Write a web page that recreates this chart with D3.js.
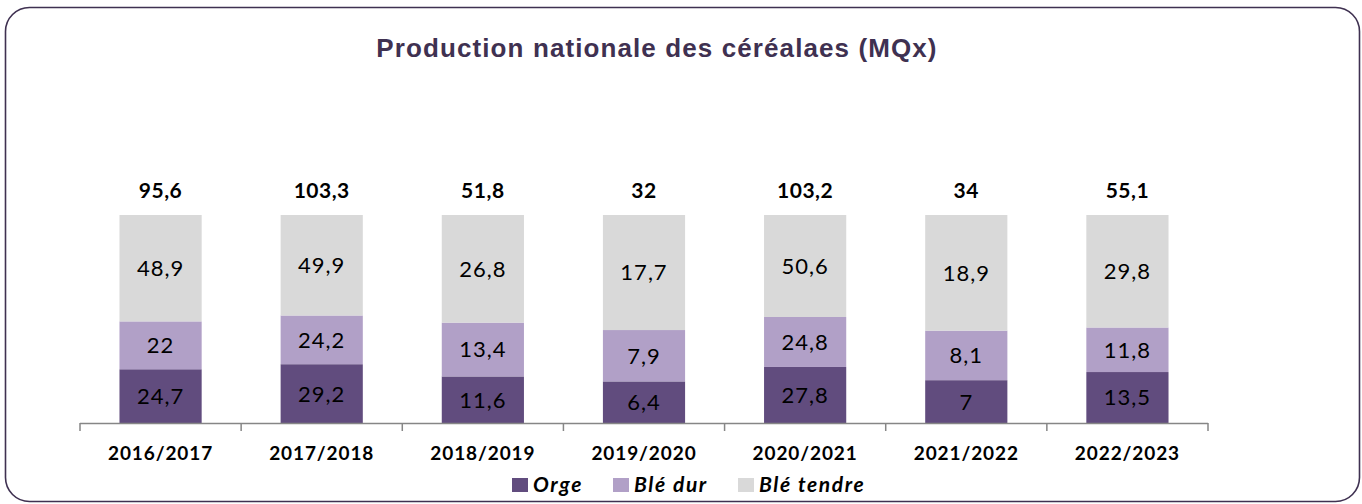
<!DOCTYPE html>
<html>
<head>
<meta charset="utf-8">
<script src="https://cdn.jsdelivr.net/npm/d3@7"></script>
<style>
  html, body { margin: 0; padding: 0; background: #fff; }
  svg { display: block; }
</style>
</head>
<body>
<svg id="chart" width="1362" height="504"></svg>
<script>
// Campaigns and production (MQx) per cereal
const campaigns = ["2016/2017", "2017/2018", "2018/2019", "2019/2020", "2020/2021", "2021/2022", "2022/2023"];
const orge      = [24.7, 29.2, 11.6, 6.4, 27.8, 7, 13.5];
const bleDur    = [22, 24.2, 13.4, 7.9, 24.8, 8.1, 11.8];
const bleTendre = [48.9, 49.9, 26.8, 17.7, 50.6, 18.9, 29.8];
const totals    = [95.6, 103.3, 51.8, 32, 103.2, 34, 55.1];
const seriesNames = ["Orge", "Blé dur", "Blé tendre"];
const seriesColors = ["#614C7E", "#B1A0C7", "#D9D9D9"];

const fr = d3.formatLocale({ decimal: ",", thousands: " ", grouping: [3], currency: ["", ""] });
const fmt = v => fr.format(",")(v).replace(/\u2212/, "-");

const rows = campaigns.map((c, i) => ({
  campaign: c,
  "Orge": orge[i],
  "Blé dur": bleDur[i],
  "Blé tendre": bleTendre[i],
  total: totals[i]
}));

const svg = d3.select("#chart");

// Rounded frame
svg.append("rect")
  .attr("x", 5.5).attr("y", 7.5)
  .attr("width", 1354).attr("height", 494)
  .attr("rx", 24).attr("ry", 24)
  .attr("fill", "#fff")
  .attr("stroke", "#3F3151")
  .attr("stroke-width", 1.6);

// Title
svg.append("text")
  .attr("x", 657).attr("y", 57)
  .attr("text-anchor", "middle")
  .attr("font-family", "'Liberation Sans', Arial, sans-serif")
  .attr("font-weight", "bold")
  .attr("font-size", 26)
  .attr("letter-spacing", "1.1px")
  .attr("fill", "#3F3151")
  .text("Production nationale des céréalaes (MQx)");

const x = d3.scaleBand()
  .domain(campaigns)
  .range([80, 1208])
  .paddingInner(0.49)
  .paddingOuter(0.245);

// Each column shows the share of every cereal in the campaign total
const y = d3.scaleLinear().domain([0, 1]).range([423, 215]);

const stack = d3.stack()
  .keys(seriesNames)
  .offset(d3.stackOffsetExpand);
const layers = stack(rows);

const g = svg.append("g");

layers.forEach((layer, li) => {
  const lg = g.append("g").attr("fill", seriesColors[li]);
  lg.selectAll("rect")
    .data(layer)
    .join("rect")
    .attr("x", d => x(d.data.campaign))
    .attr("width", x.bandwidth())
    .attr("y", d => y(d[1]))
    .attr("height", d => y(d[0]) - y(d[1]));

  g.append("g").selectAll("text")
    .data(layer)
    .join("text")
    .attr("x", d => x(d.data.campaign) + x.bandwidth() / 2)
    .attr("y", d => (y(d[0]) + y(d[1])) / 2)
    .attr("dy", "0.36em")
    .attr("text-anchor", "middle")
    .attr("font-family", "Lato, 'Open Sans', sans-serif")
    .attr("font-size", 22)
    .attr("letter-spacing", "1px")
    .attr("fill", "#000")
    .text(d => fmt(d.data[layer.key]));
});

// Totals above the columns
g.append("g").selectAll("text")
  .data(rows)
  .join("text")
  .attr("x", d => x(d.campaign) + x.bandwidth() / 2)
  .attr("y", y(1) - 17)
  .attr("text-anchor", "middle")
  .attr("font-family", "Lato, 'Open Sans', sans-serif")
  .attr("font-weight", "bold")
  .attr("font-size", 21)
  .attr("letter-spacing", "0.5px")
  .attr("fill", "#000")
  .text(d => fmt(d.total));

// Category axis
const axisG = svg.append("g").attr("transform", "translate(0,423)");
axisG.call(d3.axisBottom(x).tickSize(0).tickPadding(24))
  .call(a => a.select(".domain").remove());
axisG.selectAll(".tick text")
  .attr("font-family", "Lato, 'Open Sans', sans-serif")
  .attr("font-weight", "bold")
  .attr("font-size", 19)
  .attr("letter-spacing", "0.9px")
  .attr("fill", "#000");

const [r0, r1] = x.range();
axisG.append("line")
  .attr("x1", r0).attr("x2", r1)
  .attr("y1", 0.5).attr("y2", 0.5)
  .attr("stroke", "#868686").attr("stroke-width", 1.5);
const bounds = d3.range(campaigns.length + 1).map(i => r0 + i * x.step());
axisG.selectAll(".sep")
  .data(bounds)
  .join("line")
  .attr("class", "sep")
  .attr("x1", d => d).attr("x2", d => d)
  .attr("y1", 0).attr("y2", 8)
  .attr("stroke", "#868686").attr("stroke-width", 1.5);

// Legend
const legendItems = [
  { name: seriesNames[0], color: seriesColors[0], x: 512 },
  { name: seriesNames[1], color: seriesColors[1], x: 613 },
  { name: seriesNames[2], color: seriesColors[2], x: 738 }
];
const leg = svg.append("g");
legendItems.forEach(it => {
  leg.append("rect")
    .attr("x", it.x).attr("y", 478)
    .attr("width", 16).attr("height", 14)
    .attr("fill", it.color);
  leg.append("text")
    .attr("x", it.x + 21).attr("y", 492)
    .attr("font-family", "Lato, 'Open Sans', sans-serif")
    .attr("font-weight", "bold")
    .attr("font-style", "italic")
    .attr("font-size", 21)
    .attr("letter-spacing", "1.6px")
    .attr("fill", "#000")
    .text(it.name);
});
</script>
</body>
</html>
